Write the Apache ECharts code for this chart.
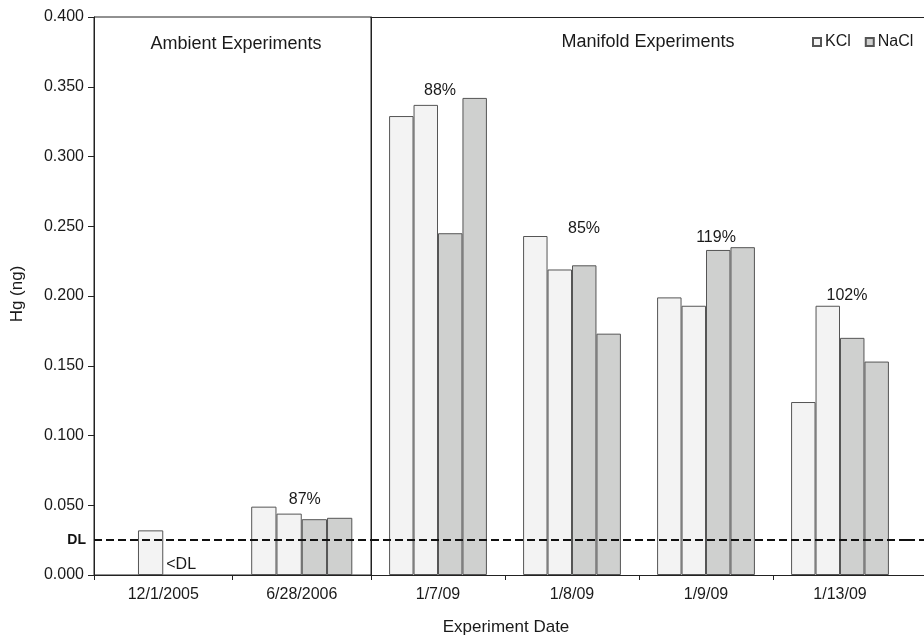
<!DOCTYPE html>
<html>
<head>
<meta charset="utf-8">
<script src="https://cdn.jsdelivr.net/npm/echarts@6/dist/echarts.min.js"></script>
<style>
  html, body { margin: 0; padding: 0; background: #fff; }
  #chart { width: 924px; height: 637px; }
</style>
</head>
<body>
<div id="chart"></div>
<script>
// Experiment dates: two ambient runs, then the manifold runs
const ambientDates = ['12/1/2005', '6/28/2006'];
const manifoldDates = ['1/7/09', '1/8/09', '1/9/09', '1/13/09'];

// Hg (ng) per run, in date order (ambient first, then manifold)
const kclRun1 = [null, 0.049, 0.329, 0.243, 0.199, 0.124];
const kclRun2 = [0.032, 0.044, 0.337, 0.219, 0.193, 0.193];
const naclRun1 = [null, 0.040, 0.245, 0.222, 0.233, 0.170];
const naclRun2 = [null, 0.041, 0.342, 0.173, 0.235, 0.153];

// Recovery stated above each date group
const recovery = ['', '87%', '88%', '85%', '119%', '102%'];

// Detection limit
const detectionLimit = 0.025;

const yTicks = { min: 0, max: 0.4, step: 0.05 };

// ---- styling ----
const FONT = "'Liberation Sans', Arial, Helvetica, sans-serif";
const KCL_FILL = '#f3f3f3';
const NACL_FILL = '#cfd0cf';
const EDGE = '#555';
const AXIS = '#222';
const TEXT = '#1a1a1a';
// small horizontal/vertical nudges for the recovery labels, per date
const recoveryNudge = [[0, 0], [3, 1], [2, 1], [12, 1], [10, -2], [7, -2]];

const nA = ambientDates.length;
const sliceA = a => a.slice(0, nA);
const sliceB = a => a.slice(nA);

function barSeries(name, data, fill, gridIdx) {
  return {
    type: 'bar',
    name: name,
    xAxisIndex: gridIdx,
    yAxisIndex: gridIdx,
    data: data,
    barGap: '0%',
    barCategoryGap: '27%',
    itemStyle: { color: fill, borderColor: EDGE, borderWidth: 1 },
    z: 2
  };
}

// "<DL" note sits next to the KCl bar of the first ambient date
const kclRun2A = sliceA(kclRun2).map((v, i) => i === 0 ? {
  value: v,
  label: {
    show: true, formatter: '<DL', position: ['100%', '100%'],
    align: 'left', verticalAlign: 'bottom', offset: [3, -2],
    fontFamily: FONT, fontSize: 16, color: TEXT
  }
} : v);

function groupMax(i) {
  return Math.max(...[kclRun1[i], kclRun2[i], naclRun1[i], naclRun2[i]].filter(v => v != null));
}

function dlLine(withLabel) {
  return {
    silent: true,
    symbol: 'none',
    precision: 3,
    data: [{ yAxis: detectionLimit }],
    lineStyle: { color: '#111', type: [8, 4], width: 2 },
    label: withLabel ? {
      show: true, position: 'start', formatter: 'DL', distance: 8,
      fontFamily: FONT, fontSize: 14, fontWeight: 'bold', color: '#111'
    } : { show: false }
  };
}

function recoverySeries(xIdx, yIdx, indices, withDL) {
  const data = indices.map((gi, k) => gi == null ? null : {
    value: [k, groupMax(gi)],
    label: { offset: recoveryNudge[gi] }
  });
  return {
    type: 'scatter',
    xAxisIndex: xIdx,
    yAxisIndex: yIdx,
    symbolSize: 0,
    silent: true,
    z: 5,
    data: data,
    itemStyle: { opacity: 1 },
    label: {
      show: true, position: 'top', distance: 0,
      formatter: p => recovery[indices[p.dataIndex]],
      fontFamily: FONT, fontSize: 16, color: TEXT
    },
    markLine: dlLine(withDL)
  };
}

const idxA = ambientDates.map((_, i) => i === 0 ? null : i);
const idxB = manifoldDates.map((_, i) => nA + i);

const gridTop = 17, gridBottom = 62;
const lineOnly = (gridIndex, position, data) => ({
  type: 'category', gridIndex: gridIndex, position: position, data: data,
  axisLine: { show: true, lineStyle: { color: AXIS } },
  axisTick: { show: false }, axisLabel: { show: false }, splitLine: { show: false }
});
const valueAxis = (gridIndex, visible) => ({
  type: 'value', gridIndex: gridIndex, min: yTicks.min, max: yTicks.max, interval: yTicks.step,
  axisLine: { show: visible, lineStyle: { color: AXIS } },
  axisTick: { show: false }, axisLabel: { show: false }, splitLine: { show: false }
});
// category boundaries of the manifold panel, ticked except where the frame continues
const manifoldBoundaries = manifoldDates.map((_, i) => i);

const chart = echarts.init(document.getElementById('chart'), null, { renderer: 'canvas' });
chart.setOption({
  backgroundColor: '#fff',
  animation: false,
  textStyle: { fontFamily: FONT },
  grid: [
    // ambient panel, boxed
    { left: 94, top: gridTop, bottom: gridBottom, width: 277, show: true, borderColor: AXIS, borderWidth: 1, backgroundColor: 'transparent' },
    // manifold panel
    { left: 371, top: gridTop, bottom: gridBottom, width: 536 },
    // frame continuing past the last date
    { left: 907, top: gridTop, bottom: gridBottom, width: 17 }
  ],
  legend: {
    data: ['KCl', 'NaCl'],
    left: 812, top: 34, padding: 0,
    icon: 'rect', itemWidth: 8, itemHeight: 8, itemGap: 14,
    textStyle: { fontFamily: FONT, fontSize: 16, color: TEXT, padding: [0, 0, 0, -1] }
  },
  xAxis: [
    {
      type: 'category', gridIndex: 0, data: ambientDates,
      axisLine: { lineStyle: { color: AXIS } },
      axisTick: { show: true, length: 5, lineStyle: { color: AXIS } },
      axisLabel: { fontFamily: FONT, fontSize: 16, color: TEXT, margin: 12 }
    },
    {
      type: 'category', gridIndex: 1, data: manifoldDates,
      axisLine: { lineStyle: { color: AXIS } },
      axisTick: { show: false },
      axisLabel: { fontFamily: FONT, fontSize: 16, color: TEXT, margin: 12 }
    },
    lineOnly(1, 'top', manifoldDates),
    lineOnly(2, 'bottom', ['']),
    lineOnly(2, 'top', ['']),
    {
      type: 'value', gridIndex: 1, position: 'bottom',
      min: 0, max: manifoldDates.length, interval: 1,
      axisLine: { show: false },
      axisTick: { show: true, length: 5, lineStyle: { color: AXIS }, customValues: manifoldBoundaries },
      axisLabel: { show: false }, splitLine: { show: false }
    }
  ],
  yAxis: [
    {
      type: 'value', gridIndex: 0, min: yTicks.min, max: yTicks.max, interval: yTicks.step,
      axisLine: { show: true, lineStyle: { color: AXIS } },
      axisTick: { show: true, length: 6, lineStyle: { color: AXIS } },
      splitLine: { show: false },
      axisLabel: { fontFamily: FONT, fontSize: 16, color: TEXT, margin: 10, formatter: v => v.toFixed(3) }
    },
    valueAxis(1, true),
    valueAxis(2, false)
  ],
  series: [
    barSeries('KCl', sliceA(kclRun1), KCL_FILL, 0),
    barSeries('KCl', kclRun2A, KCL_FILL, 0),
    barSeries('NaCl', sliceA(naclRun1), NACL_FILL, 0),
    barSeries('NaCl', sliceA(naclRun2), NACL_FILL, 0),
    barSeries('KCl', sliceB(kclRun1), KCL_FILL, 1),
    barSeries('KCl', sliceB(kclRun2), KCL_FILL, 1),
    barSeries('NaCl', sliceB(naclRun1), NACL_FILL, 1),
    barSeries('NaCl', sliceB(naclRun2), NACL_FILL, 1),
    recoverySeries(0, 0, idxA, true),
    recoverySeries(1, 1, idxB, false),
    { type: 'scatter', xAxisIndex: 3, yAxisIndex: 2, symbolSize: 0, silent: true, data: [], markLine: dlLine(false) }
  ],
  graphic: [
    { type: 'text', style: { text: 'Ambient Experiments', x: 236, y: 44, textAlign: 'center', textVerticalAlign: 'middle', font: '18px ' + FONT, fill: TEXT } },
    { type: 'text', style: { text: 'Manifold Experiments', x: 648, y: 42, textAlign: 'center', textVerticalAlign: 'middle', font: '18px ' + FONT, fill: TEXT } },
    { type: 'text', style: { text: 'Experiment Date', x: 506, y: 627, textAlign: 'center', textVerticalAlign: 'middle', font: '17px ' + FONT, fill: TEXT } },
    { type: 'text', rotation: Math.PI / 2, x: 17, y: 294, style: { text: 'Hg (ng)', x: 0, y: 0, textAlign: 'center', textVerticalAlign: 'middle', font: '17px ' + FONT, fill: TEXT } }
  ]
});
</script>
</body>
</html>
